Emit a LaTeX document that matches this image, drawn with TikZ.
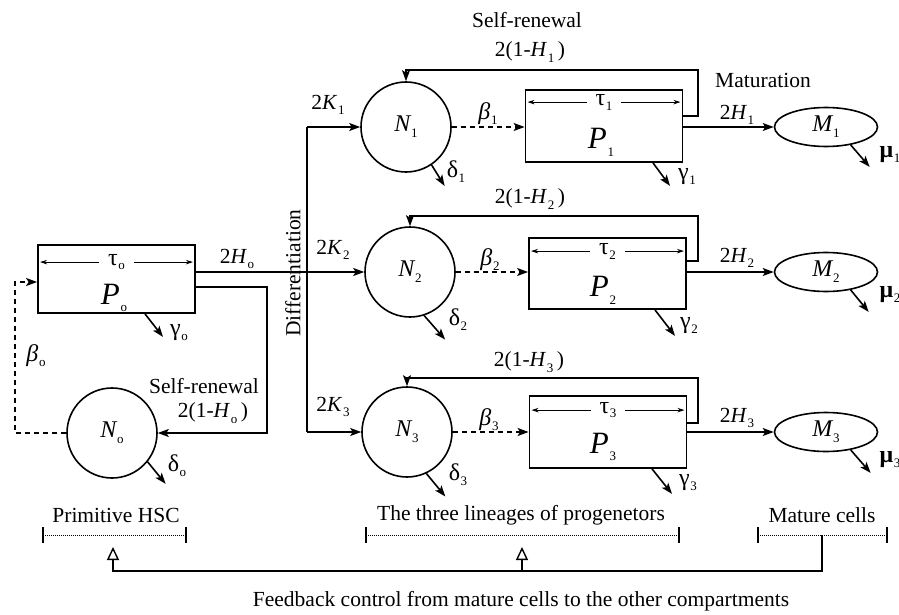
\documentclass[tikz,border=0pt]{standalone}
\usepackage{fontspec}
\setmainfont{Liberation Serif}
\usetikzlibrary{arrows.meta,calc,shapes.geometric}
\newcommand{\sbs}[1]{\kern0.6pt\raisebox{-0.25em}{\fontsize{13}{13}\selectfont #1}}
\newcommand{\gsb}[1]{\kern0.6pt\raisebox{-0.2em}{\fontsize{13}{13}\selectfont #1}}
\begin{document}
\begin{tikzpicture}[x=1pt,y=-1pt,
  ln/.style={line width=1.6pt},
  arr/.style={ln,-{Stealth[length=11pt,width=8pt,inset=2.5pt]}},
  dasharr/.style={arr,dash pattern=on 5pt off 4pt},
  cell/.style={draw,circle,line width=1.6pt,minimum size=90pt,inner sep=0pt,font=\fontsize{24}{25}\selectfont\itshape},
  comp/.style={draw,rectangle,line width=1.8pt,minimum width=157pt,minimum height=71pt,inner sep=0pt},
  mat/.style={draw,ellipse,line width=1.6pt,minimum width=103pt,minimum height=39pt,inner sep=0pt,font=\fontsize{24}{25}\selectfont\itshape},
  txt/.style={font=\fontsize{21.5}{24}\selectfont,inner sep=0pt},
  big/.style={font=\fontsize{31}{32}\selectfont,inner sep=0pt},
  gr/.style={font=\fontsize{24}{26}\selectfont,inner sep=0pt},
  tauarr/.style={line width=0.8pt,{Stealth[length=7pt,width=4.5pt]}-{Stealth[length=7pt,width=4.5pt]}},
  openarr/.style={ln,-{Triangle[open,length=13pt,width=12pt,line width=1.4pt]}},
  tick/.style={line width=1.3pt},
  dots/.style={line width=1pt,dash pattern=on 1pt off 1pt}
]
\useasboundingbox (0,0) rectangle (899,615);

% ---------- compartments ----------
\node[comp,minimum height=68pt] (P0) at (116.5,279) {};
\node[cell] (N0) at (112,433) {N\sbs{\upshape o}};
\node[cell] (N1) at (406,127) {N\sbs{\upshape 1}};
\node[cell] (N2) at (410,272) {N\sbs{\upshape 2}};
\node[cell] (N3) at (407,432) {N\sbs{\upshape 3}};
\node[comp,minimum height=72pt] (P1) at (604,126) {};
\node[comp] (P2) at (607.5,273.5) {};
\node[comp,minimum height=72pt] (P3) at (608,432) {};
\node[mat] (M1) at (826,127) {M\sbs{\upshape 1}};
\node[mat] (M2) at (826,272) {M\sbs{\upshape 2}};
\node[mat] (M3) at (826,432) {M\sbs{\upshape 3}};

% P labels
\node[big] (P0l) at (114,298) {\textit{P}\sbs{o}};
\node[big] (P1l) at (601,142) {\textit{P}\sbs{1}};
\node[big] (P2l) at (603,290) {\textit{P}\sbs{2}};
\node[big] (P3l) at (603,447) {\textit{P}\sbs{3}};

% tau arrows
\draw[tauarr] ($(P0.north west)+(3,18)$) -- node[gr,fill=white,inner xsep=9pt,inner ysep=1pt] (t0) {τ\gsb{o}} ($(P0.north east)+(-3,18)$);
\draw[tauarr] ($(P1.north west)+(3,13)$) -- node[gr,fill=white,inner xsep=9pt,inner ysep=1pt] (t1) {τ\gsb{1}} ($(P1.north east)+(-3,13)$);
\draw[tauarr] ($(P2.north west)+(3,14)$) -- node[gr,fill=white,inner xsep=9pt,inner ysep=1pt] (t2) {τ\gsb{2}} ($(P2.north east)+(-3,14)$);
\draw[tauarr] ($(P3.north west)+(3,15)$) -- node[gr,fill=white,inner xsep=9pt,inner ysep=1pt] (t3) {τ\gsb{3}} ($(P3.north east)+(-3,15)$);

% ---------- primitive HSC ----------
\draw[arr] (P0.east |- N2.west) -- (N2.west);
\coordinate (srP0) at (267,433);
\draw[arr] ($(P0.east)+(0,8)$) -| (srP0) -- (N0.east);
\coordinate (b0) at (15,282);
\draw[dasharr] (N0.west) -| (b0) -- (b0 -| P0.west);

% ---------- differentiation ----------
\coordinate (dtop) at (307,127);
\coordinate (dbot) at (307,432);
\draw[ln] (dtop) -- (dbot);
\draw[arr] (dtop) -- (N1.west);
\draw[arr] (dbot) -- (N3.west);

% ---------- beta ----------
\draw[dasharr] (N1.east) -- (N1.east -| P1.west);
\draw[dasharr] (N2.east) -- (N2.east -| P2.west);
\draw[dasharr] (N3.east) -- (N3.east -| P3.west);

% ---------- self-renewal loops ----------
\coordinate (L1) at (698,70);
\coordinate (L2) at (698,216);
\coordinate (L3) at (698,378);
\draw[arr] ($(P1.east)+(0,-10)$) -| (L1) -| (N1.north);
\draw[arr] ($(P2.east)+(0,-12.5)$) -| (L2) -| (N2.north);
\draw[arr] ($(P3.east)+(0,-9)$) -| (L3) -| (N3.north);

% ---------- maturation ----------
\draw[arr] (M1.west -| P1.east) -- (M1.west);
\draw[arr] (M2.west -| P2.east) -- (M2.west);
\draw[arr] (M3.west -| P3.east) -- (M3.west);

% ---------- losses ----------
\draw[arr] (N0.-39) -- ++(18,22);
\draw[arr] (N1.-56) -- ++(13,21);
\draw[arr] (N2.-72) -- ++(21,24);
\draw[arr] (N3.-65) -- ++(19,23);
\draw[arr] ($(P0.south)+(28.5,0)$) -- ++(18,23);
\draw[arr] ($(P1.south)+(49,0)$) -- ++(17,23);
\draw[arr] ($(P2.south)+(47.5,0)$) -- ++(20,26);
\draw[arr] ($(P3.south)+(44,0)$) -- ++(20,25);
\draw[arr] (M1.-36) -- ++(19,22);
\draw[arr] (M2.-36) -- ++(18,22);
\draw[arr] (M3.-36) -- ++(20,23);

\node[gr] (d0) at (177,466) {δ\gsb{o}};
\node[gr] (d1) at (456,172) {δ\gsb{1}};
\node[gr] (d2) at (458,320) {δ\gsb{2}};
\node[gr] (d3) at (458,475) {δ\gsb{3}};
\node[gr] (g0) at (179,333) {γ\gsb{o}};
\node[gr] (g1) at (687,177) {γ\gsb{1}};
\node[gr] (g2) at (689,326) {γ\gsb{2}};
\node[gr] (g3) at (688,483) {γ\gsb{3}};
\node[gr] (mu1) at (890,155) {\textbf{μ}\gsb{1}};
\node[gr] (mu2) at (890,295) {\textbf{μ}\gsb{2}};
\node[gr] (mu3) at (890,460) {\textbf{μ}\gsb{3}};

% ---------- labels ----------
\node[txt] (sr1) at (527,20) {Self-renewal};
\node[txt] (h1) at (530,52) {2(1-\textit{H}\sbs{1}\,)};
\node[txt] (h2) at (530,199) {2(1-\textit{H}\sbs{2}\,)};
\node[txt] (h3) at (529,362) {2(1-\textit{H}\sbs{3}\,)};
\node[txt] (matu) at (763,80) {Maturation};
\node[txt] (m1l) at (737,115) {2\textit{H}\sbs{1}};
\node[txt] (m2l) at (737,258) {2\textit{H}\sbs{2}};
\node[txt] (m3l) at (737,418) {2\textit{H}\sbs{3}};
\node[txt] (k1) at (328,105) {2\textit{K}\sbs{1}};
\node[txt] (k2) at (333,250) {2\textit{K}\sbs{2}};
\node[txt] (k3) at (333,407) {2\textit{K}\sbs{3}};
\node[txt] (h0) at (237,259) {2\textit{H}\sbs{o}};
\node[txt] (sr0) at (204,386) {Self-renewal};
\node[txt] (hh0) at (213,413) {2(1-\textit{H}\sbs{o}\,)};
\node[gr] (be0) at (36,356) {\textit{β}\gsb{o}};
\node[gr] (be1) at (488,114) {\textit{β}\gsb{1}};
\node[gr] (be2) at (490,260) {\textit{β}\gsb{2}};
\node[gr] (be3) at (489,420) {\textit{β}\gsb{3}};
\node[txt,rotate=90] (diff) at (293,273) {Differentiation};

% ---------- bottom ----------
\coordinate (hscL) at (43,535);  \coordinate (hscR) at (186,535);
\coordinate (linL) at (366,535); \coordinate (linR) at (679,535);
\coordinate (matL) at (758,535); \coordinate (matR) at (887,535);
\draw[dots] (hscL) -- (hscR);
\draw[dots] (linL) -- (linR);
\draw[dots] (matL) -- (matR);
\foreach \c in {hscL,hscR,linL,linR,matL,matR}
  \draw[tick] (\c) ++(0,-8) -- ++(0,16);
\node[txt] (hscT) at (116,515) {Primitive HSC};
\node[txt] (linT) at (521,515) {The three lineages of progenetors};
\node[txt] (matT) at (822,515) {Mature cells};

\coordinate (fbM) at (822,535);
\coordinate (fb) at (822,571);
\coordinate (hscA) at (113,547);
\coordinate (linA) at (522,547);
\draw[openarr] (fbM) -- (fb) -| (hscA);
\draw[openarr] (fb -| linA) -- (linA);
\node[txt] (cap) at (521,601) {Feedback control from mature cells to the other compartments};
\end{tikzpicture}
\end{document}
